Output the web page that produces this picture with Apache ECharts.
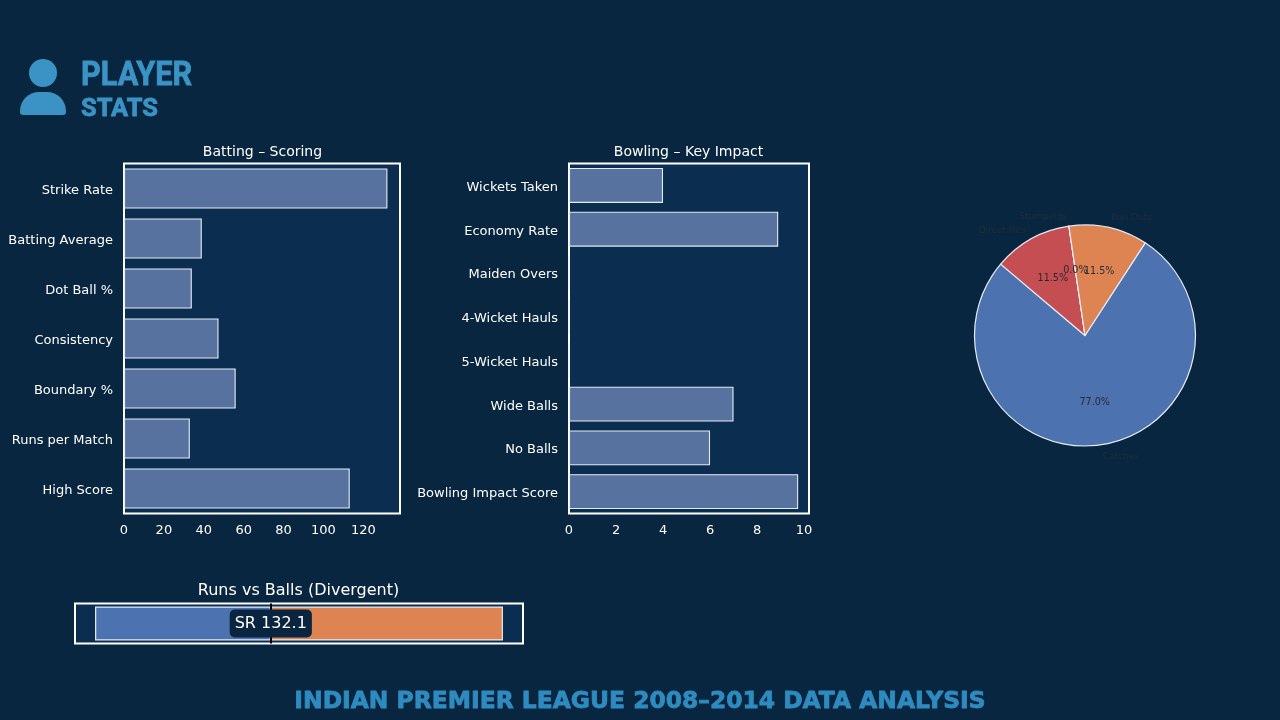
<!DOCTYPE html>
<html><head><meta charset="utf-8">
<style>html,body{margin:0;padding:0;background:#08263f}#c{width:1280px;height:720px}</style>
<script src="https://cdn.jsdelivr.net/npm/echarts@6/dist/echarts.min.js"></script>
</head><body><div id="c"></div>
<script>
const battingCategories = ['Strike Rate','Batting Average','Dot Ball %','Consistency','Boundary %','Runs per Match','High Score'];
const battingValues = [132.1,39,34,47.4,56,33,113.2];
const battingTicks = [0,20,40,60,80,100,120];
const bowlingCategories = ['Wickets Taken','Economy Rate','Maiden Overs','4-Wicket Hauls','5-Wicket Hauls','Wide Balls','No Balls','Bowling Impact Score'];
const bowlingValues = [4,8.9,0,0,0,7,6,9.75];
const bowlingTicks = [0,2,4,6,8,10];
const fieldingNames = ['Catches','Direct Hits','Stumpings','Run Outs'];
const fieldingValues = [67,10,0,10];
const fieldingColors = ['#4c72b0','#c44e52','#55a868','#dd8452'];
const ballsFaced = [-1000];
const runsScored = [1321];

const FONT = 'DejaVu Sans';
const BG = '#08263f', PANEL = '#0a2d50', BLUE = '#3a93c4';
const pieCenter = [1085,335.5], R = 110.5;
const fieldingTotal = fieldingValues.reduce((a,b)=>a+b,0);

function barParts(idx, cats, vals, ticks, max){
  return {
    xAxis:{type:'value',gridIndex:idx,min:0,max:max,
      axisLine:{show:false},splitLine:{show:false},axisTick:{show:false},
      axisLabel:{color:'#fff',fontFamily:FONT,fontSize:13,margin:11,customValues:ticks}},
    yAxis:{type:'category',gridIndex:idx,data:cats,inverse:true,
      axisLine:{show:false},axisTick:{show:false},
      axisLabel:{color:'#fff',fontFamily:FONT,fontSize:13,margin:11,verticalAlign:'top',lineHeight:4}},
    series:{type:'bar',xAxisIndex:idx,yAxisIndex:idx,data:vals,barCategoryGap:'20%',silent:true,
      itemStyle:{color:'rgba(113,138,185,0.75)',borderColor:'#e6ecf5',borderWidth:1.1}}
  };
}
const b1 = barParts(0,battingCategories,battingValues,battingTicks,138.4);
const b2 = barParts(1,bowlingCategories,bowlingValues,bowlingTicks,10.21);

function percentSeries(showZero){
  return {type:'pie',center:pieCenter,radius:R*0.6,startAngle:57,clockwise:true,silent:true,z:6,
    data:fieldingValues.map(v=>({name:(v/fieldingTotal*100).toFixed(1)+'%',value:v,
      label:{show:(v===0)===showZero}})),
    itemStyle:{color:'transparent',borderWidth:0},avoidLabelOverlap:false,
    label:{position:'outside',distanceToLabelLine:0,color:'#2a2a33',fontFamily:FONT,fontSize:9.6,formatter:'{b}'},
    labelLayout:{align:'center',verticalAlign:'middle',dy:1,hideOverlap:false},
    labelLine:{show:false,length:0,length2:0}};
}

const option = {
  animation:false,
  backgroundColor:BG,
  title:[
    {text:'Batting – Scoring',left:262.5,top:145,padding:0,textAlign:'center',textStyle:{color:'#fff',fontFamily:FONT,fontSize:14,fontWeight:'normal'}},
    {text:'Bowling – Key Impact',left:688.5,top:145,padding:0,textAlign:'center',textStyle:{color:'#fff',fontFamily:FONT,fontSize:14,fontWeight:'normal'}},
    {text:'Runs vs Balls (Divergent)',left:298.5,top:583,padding:0,textAlign:'center',textStyle:{color:'#fff',fontFamily:FONT,fontSize:16,fontWeight:'normal'}},
    {text:'INDIAN PREMIER LEAGUE 2008–2014 DATA ANALYSIS',left:640,top:690,padding:0,textAlign:'center',textStyle:{color:'#2e8bc0',fontFamily:'DejaVu Sans',fontSize:23.4,fontWeight:'bold',textBorderColor:'#2e8bc0',textBorderWidth:0.8}}
  ],
  grid:[
    {left:124,top:163.5,width:276,height:350,show:true,backgroundColor:PANEL,borderColor:'#fff',borderWidth:2},
    {left:569,top:163.5,width:240,height:350,show:true,backgroundColor:PANEL,borderColor:'#fff',borderWidth:2},
    {left:75,top:603.5,width:448,height:40,show:true,backgroundColor:PANEL,borderColor:'#fff',borderWidth:2}
  ],
  xAxis:[b1.xAxis,b2.xAxis,{type:'value',gridIndex:2,min:-1114,max:1435,show:false}],
  yAxis:[b1.yAxis,b2.yAxis,{type:'category',gridIndex:2,data:['Runs vs Balls'],show:false}],
  series:[
    b1.series,b2.series,
    {type:'bar',xAxisIndex:2,yAxisIndex:2,stack:'d',data:ballsFaced,barWidth:'85%',silent:true,
      itemStyle:{color:'#4c72b0',borderColor:'#e6ecf5',borderWidth:1.2}},
    {type:'bar',xAxisIndex:2,yAxisIndex:2,stack:'d',data:runsScored,barWidth:'85%',silent:true,
      itemStyle:{color:'#dd8452',borderColor:'#e6ecf5',borderWidth:1.2},
      markLine:{silent:true,symbol:'none',label:{show:false},lineStyle:{color:'#000',width:2,type:'solid'},data:[{xAxis:0}]}},
    {type:'scatter',xAxisIndex:2,yAxisIndex:2,data:[[0,'Runs vs Balls']],symbolSize:0,silent:true,z:10,
      itemStyle:{opacity:1},
      label:{show:true,position:'inside',formatter:'SR 132.1',color:'#fff',fontFamily:FONT,fontSize:16,
        backgroundColor:'#0a2540',borderRadius:5,padding:[6,5,6,5]}},
    {type:'pie',center:pieCenter,radius:R,startAngle:57,clockwise:true,silent:true,
      data:fieldingNames.map((n,i)=>({name:n,value:fieldingValues[i],itemStyle:{color:fieldingColors[i]}})),
      avoidLabelOverlap:false,
      itemStyle:{borderColor:'#e6ecf5',borderWidth:1.2},
      label:{show:false}},
    {type:'pie',center:pieCenter,radius:R*1.1,startAngle:57,clockwise:true,silent:true,z:5,
      data:fieldingNames.map((n,i)=>({name:n,value:fieldingValues[i]})),
      itemStyle:{color:'transparent',borderWidth:0},avoidLabelOverlap:false,
      label:{show:true,position:'outside',distanceToLabelLine:0,color:'#1f2d3a',fontFamily:FONT,fontSize:9,formatter:'{b}'},
      labelLayout:{dy:1},
      labelLine:{show:false,length:0,length2:0}},
    percentSeries(false),
    percentSeries(true)
  ],
  graphic:[
    {type:'circle',shape:{cx:43,cy:73,r:14},style:{fill:BLUE}},
    {type:'rect',shape:{x:20,y:92,width:46,height:23,r:[19,19,3,3]},style:{fill:BLUE}},
    {type:'text',x:81,y:60,scaleX:0.93,style:{text:'PLAYER',fill:BLUE,stroke:BLUE,lineWidth:0.8,font:'bold 33px Roboto'}},
    {type:'text',x:81,y:96,scaleX:0.96,style:{text:'STATS',fill:BLUE,stroke:BLUE,lineWidth:0.8,font:'bold 26.5px Roboto'}}
  ]
};
const chart = echarts.init(document.getElementById('c'),null,{renderer:'canvas',width:1280,height:720});
chart.setOption(option);
</script></body></html>
